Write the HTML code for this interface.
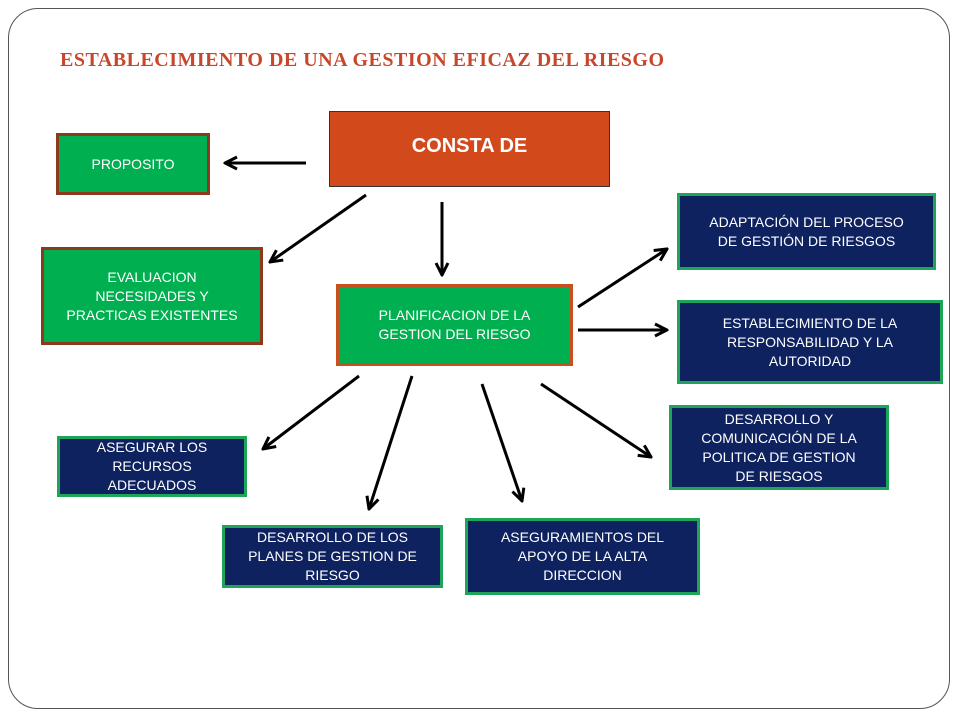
<!DOCTYPE html>
<html><head><meta charset="utf-8"><style>
body{margin:0;width:960px;height:720px;background:#fff;position:relative;overflow:hidden;font-family:"Liberation Sans",sans-serif}
.frame{position:absolute;left:8px;top:8px;width:942px;height:701px;border:1px solid #555;border-radius:30px;box-sizing:border-box}
.t{position:absolute;left:60px;top:49px;font-family:"Liberation Serif",serif;font-size:20px;font-weight:bold;color:#c8462a;white-space:nowrap;letter-spacing:0.5px}
.b{position:absolute;box-sizing:border-box;display:flex;align-items:center;justify-content:center;text-align:center;color:#fff;font-size:14px;line-height:19px}
.g{background:#00b050;border:3px solid #8b3a1e}
.n{background:#0f2260;border:3px solid #1fa55a}
</style></head><body>
<div class="frame"></div>
<div class="t">ESTABLECIMIENTO DE UNA GESTION EFICAZ DEL RIESGO</div>
<div class="b" style="left:329px;top:111px;width:281px;height:76px;background:#d2491b;border:1px solid #333;font-weight:bold;font-size:20px;padding-bottom:6px">CONSTA DE</div>
<div class="b g" style="left:56px;top:133px;width:154px;height:62px">PROPOSITO</div>
<div class="b g" style="left:41px;top:247px;width:222px;height:98px">EVALUACION<br>NECESIDADES Y<br>PRACTICAS EXISTENTES</div>
<div class="b g" style="left:336px;top:284px;width:237px;height:82px;border-color:#c8501f">PLANIFICACION DE LA<br>GESTION DEL RIESGO</div>
<div class="b n" style="left:677px;top:193px;width:259px;height:77px">ADAPTACIÓN DEL PROCESO<br>DE GESTIÓN DE RIESGOS</div>
<div class="b n" style="left:677px;top:300px;width:266px;height:84px">ESTABLECIMIENTO DE LA<br>RESPONSABILIDAD Y LA<br>AUTORIDAD</div>
<div class="b n" style="left:669px;top:405px;width:220px;height:85px">DESARROLLO Y<br>COMUNICACIÓN DE LA<br>POLITICA DE GESTION<br>DE RIESGOS</div>
<div class="b n" style="left:57px;top:436px;width:190px;height:61px">ASEGURAR LOS<br>RECURSOS<br>ADECUADOS</div>
<div class="b n" style="left:222px;top:525px;width:221px;height:63px">DESARROLLO DE LOS<br>PLANES DE GESTION DE<br>RIESGO</div>
<div class="b n" style="left:465px;top:518px;width:235px;height:77px">ASEGURAMIENTOS DEL<br>APOYO DE LA ALTA<br>DIRECCION</div>
<svg width="960" height="720" style="position:absolute;left:0;top:0">
<defs><marker id="a" viewBox="0 0 10 10" refX="9" refY="5" markerWidth="5" markerHeight="5" orient="auto"><path d="M1,1 L9,5 L1,9" fill="none" stroke="#000" stroke-width="2"/></marker></defs>
<g stroke="#000" stroke-width="3" marker-end="url(#a)" fill="none">
<line x1="306" y1="163" x2="225" y2="163"/>
<line x1="366" y1="195" x2="270" y2="262"/>
<line x1="442" y1="202" x2="442" y2="275"/>
<line x1="578" y1="307" x2="667" y2="249"/>
<line x1="578" y1="330" x2="667" y2="330"/>
<line x1="359" y1="376" x2="263" y2="449"/>
<line x1="412" y1="376" x2="369" y2="509"/>
<line x1="482" y1="384" x2="522" y2="501"/>
<line x1="541" y1="384" x2="651" y2="457"/>
</g></svg>
</body></html>
